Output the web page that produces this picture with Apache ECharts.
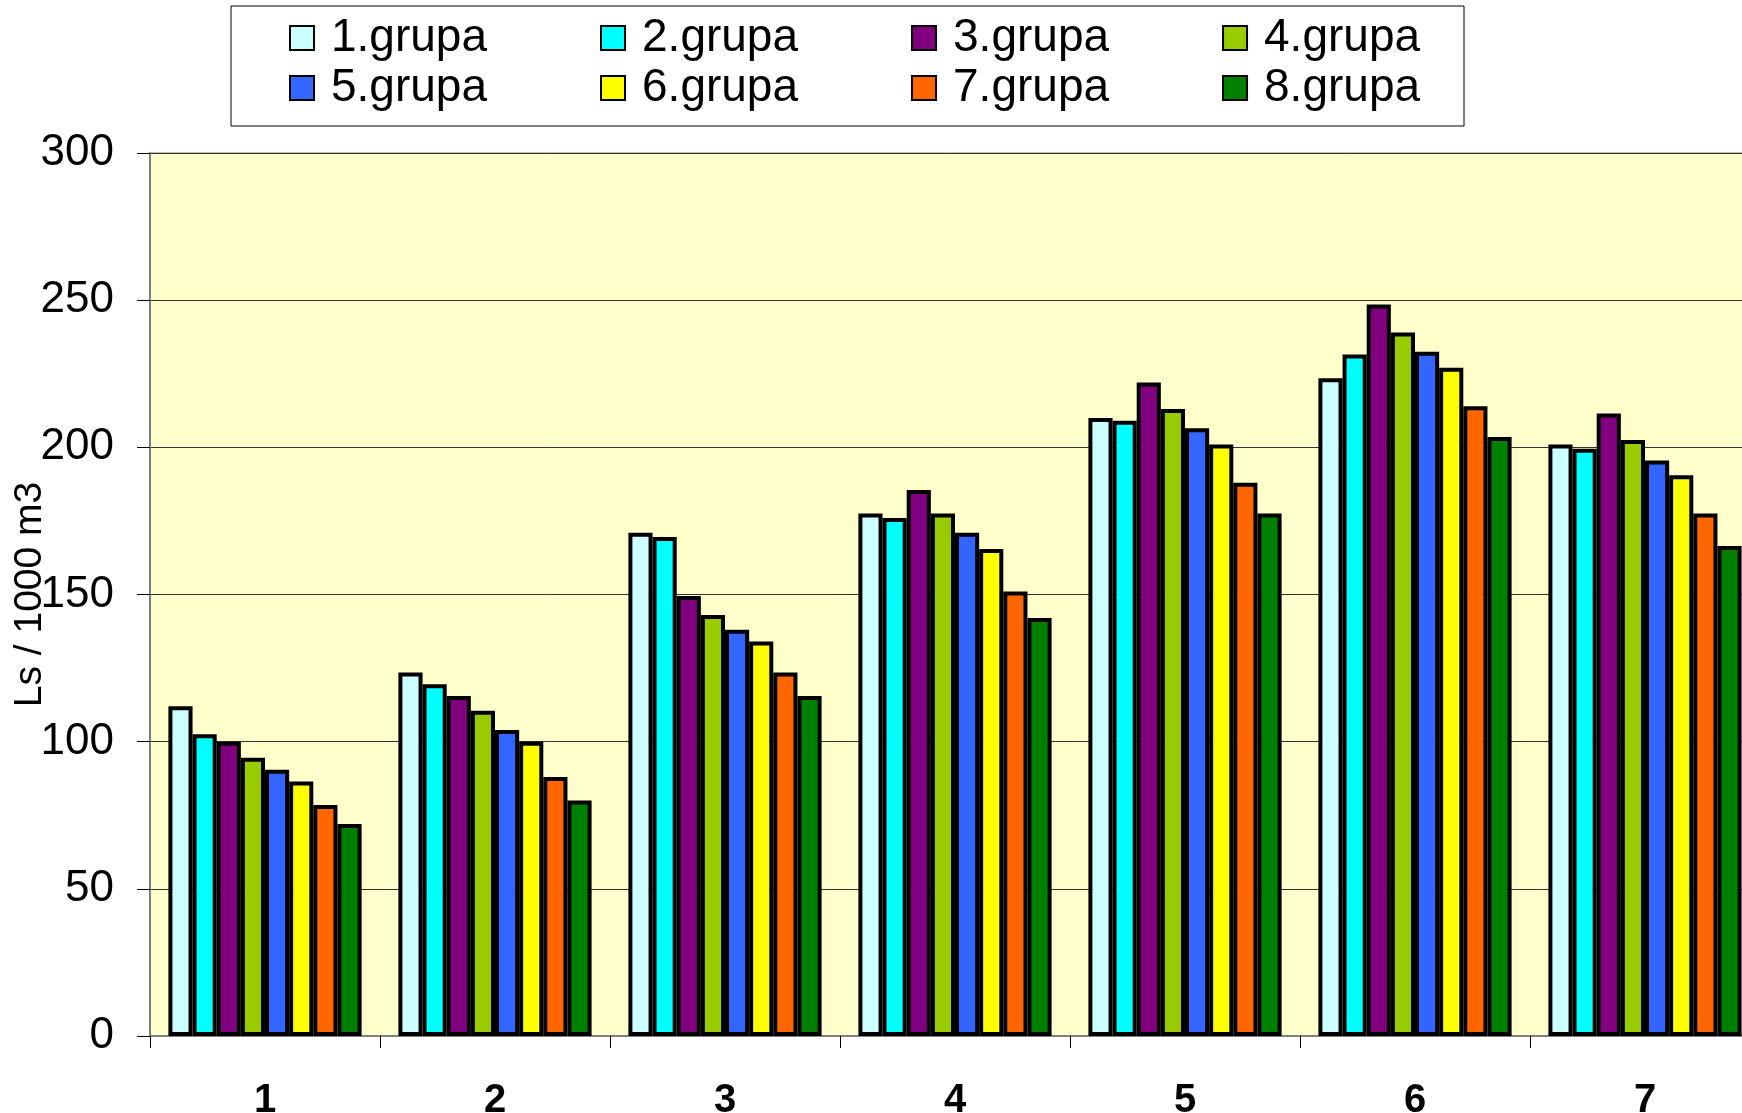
<!DOCTYPE html>
<html>
<head>
<meta charset="utf-8">
<script src="https://cdn.jsdelivr.net/npm/echarts@6/dist/echarts.min.js"></script>
<style>
  html, body { margin: 0; padding: 0; background: #fff; }
  #chart { width: 1742px; height: 1113px; }
</style>
</head>
<body>
<div id="chart"></div>
<script>
// categories on the x axis
const categories = ['1', '2', '3', '4', '5', '6', '7']
const groupNames = ['1.grupa', '2.grupa', '3.grupa', '4.grupa', '5.grupa', '6.grupa', '7.grupa', '8.grupa']
const groupColors = ['#CCFFFF', '#00FFFF', '#800080', '#99CC00', '#3366FF', '#FFFF00', '#FF6600', '#008000']

// Ls / 1000 m3 per group, one value per category
const group1 = [112, 123.5, 171, 177.5, 210, 223.5, 201]
const group2 = [102.5, 119.5, 169.5, 176, 209, 231.5, 199.5]
const group3 = [100, 115.5, 149.5, 185.5, 222, 248.5, 211.5]
const group4 = [94.5, 110.5, 143, 177.5, 213, 239, 202.5]
const group5 = [90.5, 104, 138, 171, 206.5, 232.5, 195.5]
const group6 = [86.5, 100, 134, 165.5, 201, 227, 190.5]
const group7 = [78.5, 88, 123.5, 151, 188, 214, 177.5]
const group8 = [72, 80, 115.5, 142, 177.5, 203.5, 166.5]
const groupValues = [group1, group2, group3, group4, group5, group6, group7, group8]

const yTicks = { min: 0, max: 300, interval: 50 }

const chart = echarts.init(document.getElementById('chart'))

const font = 'Liberation Sans, Arial, sans-serif'

const legendCommon = {
  left: 289,
  itemWidth: 24,
  itemHeight: 24,
  itemGap: 113,
  icon: 'rect',
  padding: 0,
  textStyle: { fontFamily: font, fontSize: 46, color: '#000', lineHeight: 50, padding: [0, 0, 0, 12] },
}

const series = groupNames.map((name, i) => ({
  name,
  type: 'bar',
  data: groupValues[i],
  barGap: 0,
  barCategoryGap: '16%',
  itemStyle: { color: groupColors[i], borderColor: '#000', borderWidth: 4 },
  emphasis: { disabled: true },
}))

chart.setOption({
  animation: false,
  graphic: [{
    type: 'rect',
    z: 0,
    shape: { x: 231, y: 6, width: 1233, height: 120 },
    style: { fill: '#fff', stroke: '#000', lineWidth: 1 },
  }],
  legend: [
    Object.assign({}, legendCommon, { top: 13, data: groupNames.slice(0, 4) }),
    Object.assign({}, legendCommon, { top: 63, data: groupNames.slice(4) }),
  ],
  grid: {
    left: 150, right: -18, top: 153, bottom: 77,
    outerBoundsMode: 'none',
    show: true, backgroundColor: '#FFFFCC', borderColor: '#808080', borderWidth: 1,
  },
  xAxis: {
    type: 'category',
    data: categories,
    axisLine: { lineStyle: { color: '#808080', width: 2 } },
    axisTick: { show: true, length: 12, lineStyle: { color: '#000' } },
    axisLabel: { fontFamily: font, fontSize: 40, fontWeight: 'bold', color: '#000', margin: 45 },
  },
  yAxis: {
    type: 'value',
    min: yTicks.min, max: yTicks.max, interval: yTicks.interval,
    name: 'Ls / 1000 m3',
    nameLocation: 'middle',
    nameGap: 100,
    nameMoveOverlap: false,
    nameTextStyle: { fontFamily: font, fontSize: 39, color: '#000' },
    axisLine: { show: true, lineStyle: { color: '#808080', width: 2 } },
    axisTick: { show: true, length: 13, lineStyle: { color: '#000' } },
    axisLabel: { fontFamily: font, fontSize: 44, color: '#000', margin: 36 },
    splitLine: { lineStyle: { color: '#333', width: 1 } },
  },
  series,
})
</script>
</body>
</html>
